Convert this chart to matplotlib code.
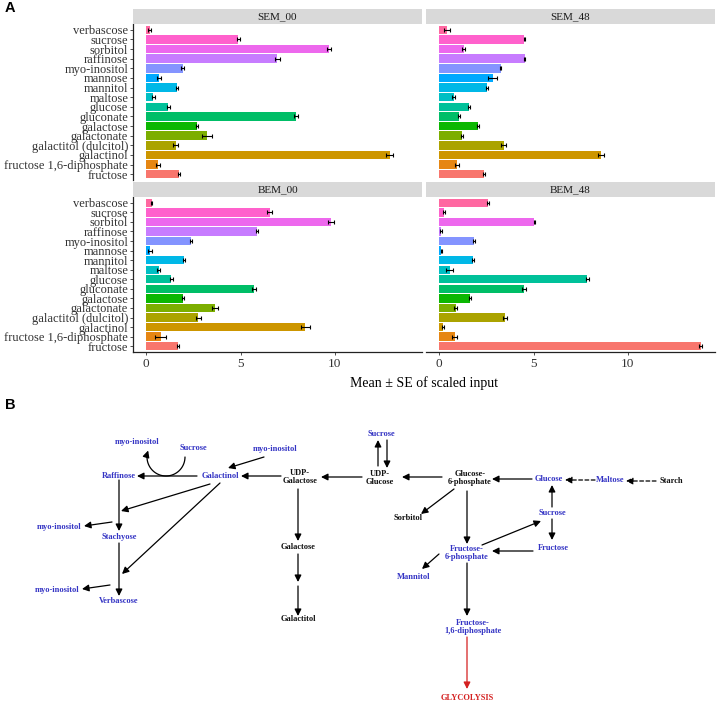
import numpy as np
import matplotlib
matplotlib.use("Agg")
import matplotlib.pyplot as plt
from matplotlib.patches import FancyArrowPatch
from matplotlib.path import Path

# ---- panel A data (categories bottom -> top) ----
metabolites = ["fructose", "fructose 1,6-diphosphate", "galactinol", "galactitol (dulcitol)",
               "galactonate", "galactose", "gluconate", "glucose", "maltose", "mannitol",
               "mannose", "myo-inositol", "raffinose", "sorbitol", "sucrose", "verbascose"]
bar_colors = ["#F8766D", "#E68613", "#CD9600", "#ABA300", "#7CAE00", "#0CB702", "#00BE67",
              "#00C19A", "#00BFC4", "#00B8E7", "#00A9FF", "#8494FF", "#C77CFF", "#ED68ED",
              "#FF61CC", "#FF68A1"]
panels = ["SEM_00", "SEM_48", "BEM_00", "BEM_48"]

sem00_mean = [1.75, 0.63, 12.9, 1.56, 3.22, 2.70, 7.94, 1.18, 0.39, 1.63, 0.68, 1.93, 6.95, 9.68, 4.87, 0.18]
sem00_se = [0.05, 0.10, 0.18, 0.15, 0.28, 0.06, 0.12, 0.06, 0.10, 0.06, 0.12, 0.06, 0.12, 0.10, 0.08, 0.06]
sem48_mean = [2.39, 0.94, 8.57, 3.42, 1.21, 2.05, 1.05, 1.60, 0.78, 2.53, 2.83, 3.26, 4.53, 1.30, 4.51, 0.41]
sem48_se = [0.04, 0.12, 0.15, 0.12, 0.07, 0.06, 0.07, 0.05, 0.08, 0.07, 0.23, 0.04, 0.04, 0.07, 0.04, 0.15]
bem00_mean = [1.67, 0.77, 8.44, 2.76, 3.66, 1.95, 5.72, 1.34, 0.66, 1.99, 0.22, 2.37, 5.88, 9.80, 6.56, 0.30]
bem00_se = [0.05, 0.30, 0.25, 0.13, 0.15, 0.07, 0.12, 0.07, 0.07, 0.05, 0.10, 0.04, 0.07, 0.15, 0.13, 0.02]
bem48_mean = [13.85, 0.82, 0.20, 3.51, 0.87, 1.62, 4.49, 7.86, 0.55, 1.80, 0.12, 1.85, 0.09, 5.04, 0.27, 2.58]
bem48_se = [0.07, 0.13, 0.05, 0.10, 0.10, 0.05, 0.10, 0.06, 0.17, 0.06, 0.02, 0.04, 0.04, 0.04, 0.06, 0.07]

means = [sem00_mean, sem48_mean, bem00_mean, bem48_mean]
ses = [sem00_se, sem48_se, bem00_se, bem48_se]

# ---- panel B pathway nodes: label, x, y (pixels), colour key ----
node_labels = ["myo-inositol", "Sucrose", "myo-inositol", "Raffinose", "Galactinol", "UDP-\nGalactose",
               "myo-inositol", "Stachyose", "Galactose", "myo-inositol", "Verbascose", "Galactitol",
               "Sucrose", "UDP-\nGlucose", "Glucose-\n6-phosphate", "Glucose", "Maltose", "Starch",
               "Sorbitol", "Sucrose", "Fructose-\n6-phosphate", "Fructose", "Mannitol",
               "Fructose-\n1,6-diphosphate", "GLYCOLYSIS"]
node_x = [137, 193, 275, 119, 220, 300, 59, 119, 298, 57, 119, 298,
          381, 380, 470, 549, 610, 671, 408, 552, 467, 553, 414, 473, 467]
node_y = [442, 448, 449, 476, 476, 477, 527, 537, 547, 590, 601, 619,
          434, 478, 478, 479, 480, 481, 518, 513, 553, 548, 577, 627, 698]
node_kind = ["b", "b", "b", "b", "b", "k", "b", "b", "k", "b", "b", "k",
             "b", "k", "k", "b", "b", "k", "k", "b", "b", "b", "b", "b", "r"]

# arrows: x1, y1, x2, y2, style
arrows = [
    (197, 476, 137, 476, "s"),   # Galactinol -> Raffinose
    (264, 457, 228, 468, "s"),   # myo-inositol -> Galactinol
    (281, 476, 241, 476, "s"),   # UDP-Gal -> Galactinol
    (362, 477, 321, 477, "s"),   # UDP-Glc -> UDP-Gal
    (210, 484, 121, 511, "s"),   # Galactinol -> Stachyose
    (220, 483, 122, 574, "s"),   # Galactinol -> Verbascose
    (119, 480, 119, 531, "s"),   # Raffinose -> Stachyose
    (112, 522, 84, 526, "s"),    # Stachyose -> myo-inositol
    (119, 543, 119, 596, "s"),   # Stachyose -> Verbascose
    (110, 585, 82, 589, "s"),    # Verbascose -> myo-inositol
    (298, 489, 298, 541, "s"),   # UDP-Gal -> Galactose
    (298, 554, 298, 582, "s"),   # Galactose -> ...
    (298, 586, 298, 616, "s"),   # ... -> Galactitol
    (378, 466, 378, 440, "s"),   # UDP-Glc -> Sucrose
    (387, 440, 387, 468, "s"),   # Sucrose -> UDP-Glc
    (442, 477, 402, 477, "s"),   # G6P -> UDP-Glc
    (532, 479, 492, 479, "s"),   # Glucose -> G6P
    (595, 480, 565, 480, "d"),   # Maltose -> Glucose
    (656, 481, 626, 481, "d"),   # Starch -> Maltose
    (454, 489, 421, 514, "s"),   # G6P -> Sorbitol
    (467, 491, 467, 544, "s"),   # G6P -> F6P
    (482, 545, 541, 521, "s"),   # F6P -> Sucrose
    (552, 507, 552, 485, "s"),   # Sucrose -> Glucose
    (552, 519, 552, 540, "s"),   # Sucrose -> Fructose
    (533, 551, 492, 551, "s"),   # Fructose -> F6P
    (439, 554, 422, 569, "s"),   # F6P -> Mannitol
    (467, 563, 467, 616, "s"),   # F6P -> F1,6DP
    (467, 637, 467, 689, "r"),   # F1,6DP -> GLYCOLYSIS
]

W, H = 717, 710
fig = plt.figure(figsize=(W / 100, H / 100), dpi=100)


def rect(x0, y0, x1, y1):
    return [x0 / W, 1 - y1 / H, (x1 - x0) / W, (y1 - y0) / H]


serif = ["Liberation Serif", "DejaVu Serif"]

# ---- panel B diagram (pixel coordinate axes behind everything) ----
axd = fig.add_axes([0, 0, 1, 1])
axd.set_xlim(0, W)
axd.set_ylim(H, 0)
axd.axis("off")
kind_color = {"b": "#3434C4", "k": "#111111", "r": "#D42020"}
for lab, x, y, k in zip(node_labels, node_x, node_y, node_kind):
    axd.text(x, y, lab, ha="center", va="center", fontsize=6, fontweight="bold",
             family=serif, color=kind_color[k], linespacing=1.15)
for x1, y1, x2, y2, st in arrows:
    col = "#D42020" if st == "r" else "black"
    ls = (0, (3, 2)) if st == "d" else "-"
    axd.add_patch(FancyArrowPatch((x1, y1), (x2, y2), arrowstyle="-|>", mutation_scale=10,
                                  color=col, lw=0.9, linestyle=ls, shrinkA=0, shrinkB=0))
# curved arrow Sucrose -> myo-inositol around Galactinol->Raffinose line
t = np.radians(np.linspace(0, 200, 40))
arc = np.column_stack([166 + 19 * np.cos(t), 457 + 19 * np.sin(t)])
axd.add_patch(FancyArrowPatch(path=Path(arc), arrowstyle="-|>", mutation_scale=10,
                              color="black", lw=0.9))

# ---- panel A facets ----
all_hi = max(max(np.array(m) + np.array(s)) for m, s in zip(means, ses))
pad = all_hi * 0.05
xlim = (-pad, all_hi + pad)
ypos = np.arange(len(metabolites))

panel_rects = [(133, 24, 422, 180), (426, 24, 715, 180), (133, 197, 422, 352), (426, 197, 715, 352)]
strip_rects = [(133, 9, 422, 24), (426, 9, 715, 24), (133, 182, 422, 197), (426, 182, 715, 197)]

for i, name in enumerate(panels):
    ax = fig.add_axes(rect(*panel_rects[i]))
    ax.barh(ypos, means[i], height=0.88, color=bar_colors)
    ax.errorbar(means[i], ypos, xerr=ses[i], fmt="none", ecolor="black",
                elinewidth=0.8, capsize=1.5, capthick=0.8)
    ax.set_xlim(*xlim)
    ax.set_ylim(-0.6, len(metabolites) - 0.4)
    for sp in ax.spines.values():
        sp.set_visible(False)
    ax.set_xticks([0, 5, 10])
    ax.set_yticks(ypos)
    left = i % 2 == 0
    bottom = i >= 2
    if left:
        ax.spines["left"].set_visible(True)
        ax.spines["left"].set_color("#222222")
        ax.spines["left"].set_linewidth(0.9)
        ax.set_yticklabels(metabolites, family=serif, fontsize=9, color="#333333")
        ax.tick_params(axis="y", length=2.5, width=0.6, pad=1, color="#333333")
    else:
        ax.tick_params(axis="y", left=False, labelleft=False)
    if bottom:
        ax.spines["bottom"].set_visible(True)
        ax.spines["bottom"].set_color("#222222")
        ax.spines["bottom"].set_linewidth(0.9)
        ax.set_xticklabels(["0", "5", "10"], family=serif, fontsize=9.5, color="#333333")
        ax.tick_params(axis="x", length=2.5, width=0.6, pad=1.5, color="#333333")
    else:
        ax.tick_params(axis="x", bottom=False, labelbottom=False)

    sax = fig.add_axes(rect(*strip_rects[i]))
    sax.set_facecolor("#D9D9D9")
    sax.set_xticks([])
    sax.set_yticks([])
    for sp in sax.spines.values():
        sp.set_visible(False)
    sax.text(0.5, 0.5, name, ha="center", va="center", transform=sax.transAxes,
             family=serif, fontsize=8, color="#1A1A1A")

fig.text(424 / W, 1 - 383 / H, "Mean \u00b1 SE of scaled input", ha="center", va="center",
         family=serif, fontsize=10, color="black")
fig.text(5 / W, 1 - 8 / H, "A", ha="left", va="center", fontsize=10.5, fontweight="bold",
         family=["Liberation Sans", "DejaVu Sans"])
fig.text(5 / W, 1 - 405 / H, "B", ha="left", va="center", fontsize=10.5, fontweight="bold",
         family=["Liberation Sans", "DejaVu Sans"])

fig.savefig("out.png", dpi=100)
